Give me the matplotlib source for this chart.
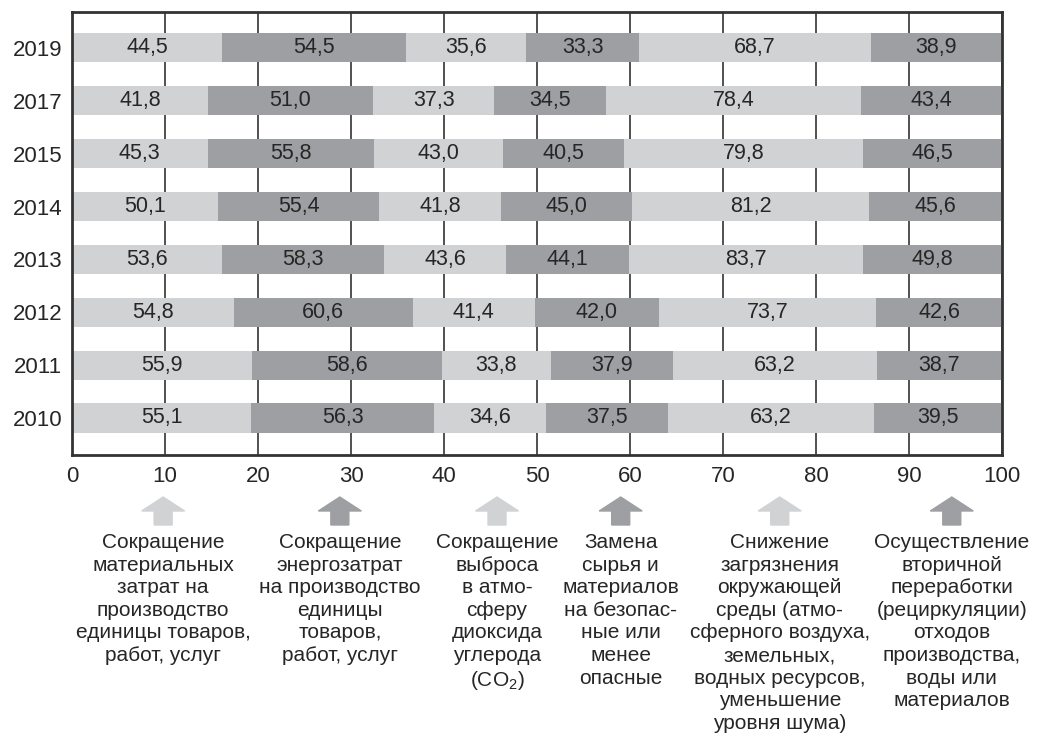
import matplotlib
matplotlib.use("Agg")
import matplotlib.pyplot as plt
import matplotlib.patches as mpatches
import matplotlib.transforms as mtransforms
import numpy as np

plt.rcParams["font.family"] = ["Liberation Sans", "DejaVu Sans"]
plt.rcParams["mathtext.fontset"] = "custom"
plt.rcParams["mathtext.rm"] = "Liberation Sans"

# ── data ──────────────────────────────────────────────────────────────────────
years = ["2010", "2011", "2012", "2013", "2014", "2015", "2017", "2019"]
material   = [55.1, 55.9, 54.8, 53.6, 50.1, 45.3, 41.8, 44.5]
energy     = [56.3, 58.6, 60.6, 58.3, 55.4, 55.8, 51.0, 54.5]
co2        = [34.6, 33.8, 41.4, 43.6, 41.8, 43.0, 37.3, 35.6]
substitute = [37.5, 37.9, 42.0, 44.1, 45.0, 40.5, 34.5, 33.3]
pollution  = [63.2, 63.2, 73.7, 83.7, 81.2, 79.8, 78.4, 68.7]
recycling  = [39.5, 38.7, 42.6, 49.8, 45.6, 46.5, 43.4, 38.9]

series = [material, energy, co2, substitute, pollution, recycling]

categories = [
    "Сокращение\nматериальных\nзатрат на\nпроизводство\nединицы товаров,\nработ, услуг",
    "Сокращение\nэнергозатрат\nна производство\nединицы\nтоваров,\nработ, услуг",
    "Сокращение\nвыброса\nв атмо-\nсферу\nдиоксида\nуглерода\n(CO$_2$)",
    "Замена\nсырья и\nматериалов\nна безопас-\nные или\nменее\nопасные",
    "Снижение\nзагрязнения\nокружающей\nсреды (атмо-\nсферного воздуха,\nземельных,\nводных ресурсов,\nуменьшение\nуровня шума)",
    "Осуществление\nвторичной\nпереработки\n(рециркуляции)\nотходов\nпроизводства,\nводы или\nматериалов",
]
label_x = [9.8, 28.8, 45.7, 59.0, 76.1, 94.6]   # where the captions sit on the x scale

LIGHT = "#D1D2D4"
DARK = "#9E9FA2"
TEXT = "#262626"
colors = [LIGHT, DARK, LIGHT, DARK, LIGHT, DARK]

# ── figure ────────────────────────────────────────────────────────────────────
W, H = 1045, 744
fig = plt.figure(figsize=(W / 100, H / 100), dpi=100)
ax = fig.add_axes([72 / W, 1 - 455 / H, 930 / W, 443 / H])

vals = np.array(series, dtype=float)
pct = vals / vals.sum(axis=0) * 100
y = np.arange(len(years))
left = np.zeros(len(years))

for i in range(len(series)):
    bars = ax.barh(y, pct[i], left=left, height=0.55, color=colors[i],
                   edgecolor="none", zorder=2)
    for b, v in zip(bars, vals[i]):
        ax.text(b.get_x() + b.get_width() / 2, b.get_y() + b.get_height() / 2,
                f"{v:.1f}".replace(".", ","), ha="center", va="center",
                fontsize=15.5, color=TEXT, zorder=3)
    left += pct[i]

ax.set_xlim(0, 100)
ax.set_ylim(-0.7, 7.68)
ax.set_xticks(np.arange(0, 101, 10))
ax.set_yticks(y)
ax.set_yticklabels(years)
ax.tick_params(axis="both", length=0, labelsize=16, labelcolor=TEXT)
ax.tick_params(axis="x", pad=8)
ax.tick_params(axis="y", pad=7)
ax.grid(axis="x", color="#222222", linewidth=1.1, zorder=1)
ax.set_axisbelow(True)
for s in ax.spines.values():
    s.set_edgecolor("#333333")
    s.set_linewidth(2)

# ── arrows + captions below the axis ─────────────────────────────────────────
trans = mtransforms.blended_transform_factory(ax.transData, fig.transFigure)
px = 100 / 930  # one pixel in data units
fy = lambda p: 1 - p / H
for xc, txt, c in zip(label_x, categories, colors):
    hw, sw = 21.5 * px, 9 * px
    pts = [(xc, fy(497)), (xc + hw, fy(511)), (xc + sw, fy(511)),
           (xc + sw, fy(525)), (xc - sw, fy(525)), (xc - sw, fy(511)),
           (xc - hw, fy(511))]
    fig.patches.append(mpatches.Polygon(pts, closed=True, color=c,
                                        transform=trans, clip_on=False))
    fig.text(xc, fy(533), txt, transform=trans, ha="center", va="top",
             multialignment="center", fontsize=15, color=TEXT, linespacing=1.24)

fig.savefig("out.png", dpi=100, facecolor="white")
